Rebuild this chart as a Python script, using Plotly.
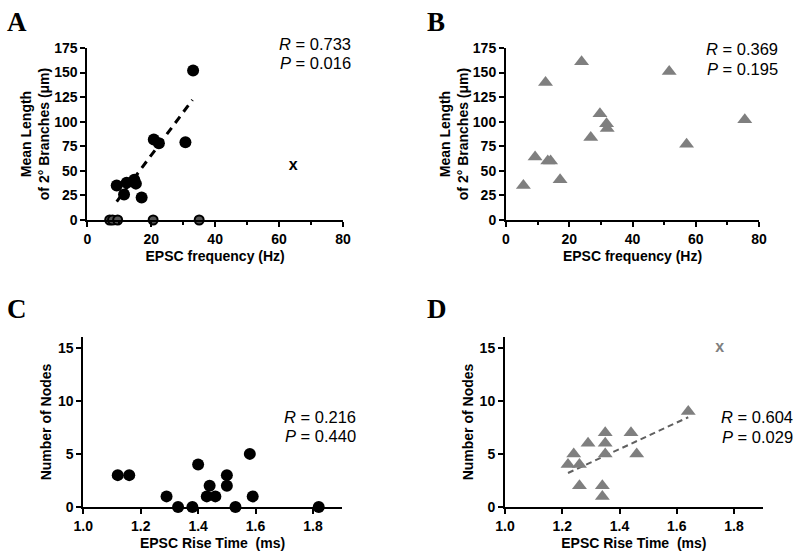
"""
Four-panel scatter figure: dendritic branch length / node count vs EPSC properties
"""
import plotly.graph_objects as go

W, H = 800, 553

# ---- panel A: EPSC frequency vs mean length of 2nd order branches (circles)
a_freq = [33.1, 30.7, 20.8, 22.4, 9.2, 11.5, 12.3, 14.7, 15.2, 17.0]
a_len = [152, 79, 82, 78, 35, 26, 38, 41, 37, 23]
a_zero_freq = [7.0, 7.9, 9.5, 20.6, 35.0]
a_zero_len = [0, 0, 0, 0, 0]
a_out_freq = [64.4]
a_out_len = [55]
a_fit_x = [9.2, 32.9]
a_fit_y = [18.7, 122.3]

# ---- panel B: triangles
b_freq = [5.5, 9.2, 12.5, 13.2, 14.1, 17.1, 23.9, 26.8, 29.7, 31.8, 32.0, 51.6, 57.1, 75.5]
b_len = [35, 64, 140, 60, 60, 41, 161, 84, 108, 98, 93, 151, 77, 102]

# ---- panel C: EPSC rise time vs number of nodes (circles)
c_rise = [1.12, 1.16, 1.29, 1.33, 1.38, 1.40, 1.43, 1.44, 1.46, 1.50, 1.50, 1.53, 1.58, 1.59, 1.82]
c_nodes = [3, 3, 1, 0, 0, 4, 1, 2, 1, 3, 2, 0, 5, 1, 0]

# ---- panel D: triangles
d_rise = [1.22, 1.24, 1.26, 1.26, 1.29, 1.34, 1.34, 1.35, 1.35, 1.35, 1.44, 1.46, 1.64]
d_nodes = [4, 5, 4, 2, 6, 2, 1, 7, 6, 5, 7, 5, 9]
d_out_rise = [1.75]
d_out_nodes = [15]
d_fit_x = [1.22, 1.64]
d_fit_y = [3.2, 8.45]

stats = {"A": ("0.733", "0.016"), "B": ("0.369", "0.195"),
         "C": ("0.216", "0.440"), "D": ("0.604", "0.029")}

GRAY = "#7f7f7f"
SANS = "Liberation Sans, Arial, sans-serif"


def px(x):
    return x / W


def py(y):
    return 1 - y / H


fig = go.Figure()

# panel A
fig.add_trace(go.Scatter(x=a_fit_x, y=a_fit_y, mode="lines", xaxis="x", yaxis="y",
                         line=dict(color="black", width=3, dash="8px,6px")))
fig.add_trace(go.Scatter(x=a_freq, y=a_len, mode="markers", xaxis="x", yaxis="y",
                         marker=dict(symbol="circle", size=12, color="black")))
fig.add_trace(go.Scatter(x=a_zero_freq, y=a_zero_len, mode="markers", xaxis="x", yaxis="y",
                         marker=dict(symbol="circle", size=9, color="#555555",
                                     line=dict(color="black", width=2))))
fig.add_trace(go.Scatter(x=a_out_freq, y=a_out_len, mode="text", text=["x"], xaxis="x", yaxis="y",
                         textfont=dict(family=SANS, size=16, color="black", weight="bold")))

# panel B
fig.add_trace(go.Scatter(x=b_freq, y=b_len, mode="markers", xaxis="x2", yaxis="y2",
                         marker=dict(symbol="triangle-up", size=13, color=GRAY)))

# panel C
fig.add_trace(go.Scatter(x=c_rise, y=c_nodes, mode="markers", xaxis="x3", yaxis="y3",
                         marker=dict(symbol="circle", size=12, color="black")))

# panel D
fig.add_trace(go.Scatter(x=d_fit_x, y=d_fit_y, mode="lines", xaxis="x4", yaxis="y4",
                         line=dict(color="#606060", width=2, dash="6px,4px")))
fig.add_trace(go.Scatter(x=d_rise, y=d_nodes, mode="markers", xaxis="x4", yaxis="y4",
                         marker=dict(symbol="triangle-up", size=13, color=GRAY)))
fig.add_trace(go.Scatter(x=d_out_rise, y=d_out_nodes, mode="text", text=["x"], xaxis="x4", yaxis="y4",
                         textfont=dict(family=SANS, size=16, color=GRAY, weight="bold")))

for tr in fig.data:
    tr.cliponaxis = False
    tr.showlegend = False
    tr.hoverinfo = "skip"

axis_common = dict(showline=True, linecolor="black", linewidth=2, ticks="outside",
                   ticklen=5, tickwidth=2, tickcolor="black", showgrid=False, zeroline=False,
                   automargin=False,
                   tickfont=dict(family=SANS, size=14, color="black", weight="bold"),
                   title_font=dict(family=SANS, size=14, color="black", weight="bold"))

freq_x = dict(range=[0, 80], dtick=20, tick0=0,
              minor=dict(dtick=10, ticks="outside", ticklen=3, tickwidth=1.5, tickcolor="black"),
              title=dict(text="EPSC frequency (Hz)", standoff=5))
len_y = dict(range=[0, 175], dtick=25, tick0=0,
             title=dict(text="Mean Length<br>of 2° Branches (μm)", standoff=1))
rise_x = dict(range=[1.0, 1.9], dtick=0.2, tick0=1.0, tickformat=".1f",
              title=dict(text="EPSC Rise Time  (ms)", standoff=5))
nodes_y = dict(range=[0, 16], dtick=5, tick0=0,
               title=dict(text="Number of Nodes", standoff=3))

fig.update_layout(
    width=W, height=H,
    margin=dict(l=0, r=0, t=0, b=0, autoexpand=False),
    paper_bgcolor="white", plot_bgcolor="white",
    showlegend=False,
    xaxis=dict(**axis_common, **freq_x, domain=[px(87.3), px(343)], anchor="y"),
    yaxis=dict(**axis_common, **len_y, domain=[py(220), py(48)], anchor="x"),
    xaxis2=dict(**axis_common, **freq_x, domain=[px(506), px(759)], anchor="y2"),
    yaxis2=dict(**axis_common, **len_y, domain=[py(220), py(48)], anchor="x2"),
    xaxis3=dict(**axis_common, **rise_x, domain=[px(83.3), px(341.7)], anchor="y3"),
    yaxis3=dict(**axis_common, **nodes_y, domain=[py(507), py(337)], anchor="x3"),
    xaxis4=dict(**axis_common, **rise_x, domain=[px(505), px(762.7)], anchor="y4"),
    yaxis4=dict(**axis_common, **nodes_y, domain=[py(507), py(337)], anchor="x4"),
)

# panel letters
for letter, (lx, ly) in {"A": (5, 5), "B": (425, 5), "C": (5, 292), "D": (425, 292)}.items():
    fig.add_annotation(text=letter, x=px(lx), y=py(ly), xref="paper", yref="paper",
                       xanchor="left", yanchor="top", showarrow=False,
                       font=dict(family="Liberation Serif, Times New Roman, serif",
                                 size=27, color="black", weight="bold"))

# R / P statistics
stat_pos = {"A": (352, 44.5, 63.5), "B": (779, 48.5, 68.5), "C": (357, 416.5, 435.5), "D": (794, 417.5, 436.5)}
for key, (rx, ry, pyy) in stat_pos.items():
    r_val, p_val = stats[key]
    for txt, yy in ((f"<i>R</i> = {r_val}", ry), (f"<i>P</i> = {p_val}", pyy)):
        fig.add_annotation(text=txt, x=px(rx), y=py(yy), xref="paper", yref="paper",
                           xanchor="right", yanchor="middle", showarrow=False, borderpad=0,
                           font=dict(family=SANS, size=16.5, color="black"))

# drop the page's default body margin so the figure sits at the window corner
fig.write_html("out.html", config={"displayModeBar": False},
               post_script="document.body.style.margin='0';")
